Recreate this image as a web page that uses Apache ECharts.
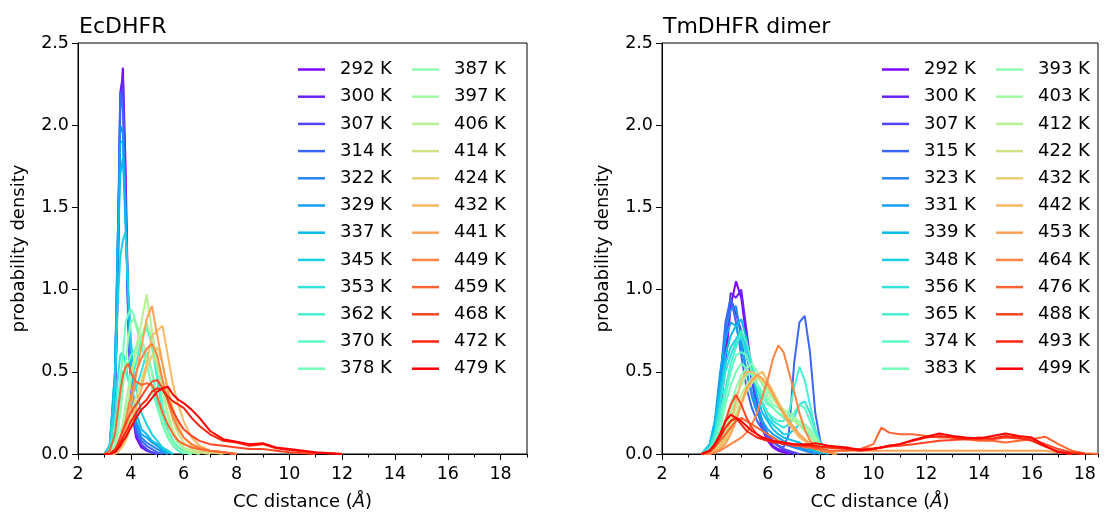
<!DOCTYPE html>
<html><head><meta charset="utf-8">
<script src="https://cdn.jsdelivr.net/npm/echarts@6/dist/echarts.min.js"></script>
<style>html,body{margin:0;padding:0;background:#fff}#c{width:1104px;height:514px}</style>
</head><body><div id="c"></div>
<script>
// ---------- data ----------
const tempsEc = ['292 K','300 K','307 K','314 K','322 K','329 K','337 K','345 K','353 K','362 K','370 K','378 K',
                 '387 K','397 K','406 K','414 K','424 K','432 K','441 K','449 K','459 K','468 K','472 K','479 K'];
const tempsTm = ['292 K','300 K','307 K','315 K','323 K','331 K','339 K','348 K','356 K','365 K','374 K','383 K',
                 '393 K','403 K','412 K','422 K','432 K','442 K','453 K','464 K','476 K','488 K','493 K','499 K'];

const xMajorTicks = [2,4,6,8,10,12,14,16,18];
const yTicks = [0,0.5,1.0,1.5,2.0,2.5];

// CC distance grid (Å) for EcDHFR
const xEc = [3.0,3.2,3.4,3.5,3.6,3.7,3.8,3.9,4.0,4.1,4.2,4.4,4.6,4.8,5.0,5.2,5.4,5.6,5.8,6.0,6.3,6.6,7.0,7.5,8.0,8.5,9.0,9.5,10,11,12];
const ec292 = [0,0.02,0.3,0.95,2.1,2.35,1.75,0.9,0.42,0.2,0.1,0.04,0.02,0.01,0];
const ec300 = [0,0.03,0.35,1.0,2.2,2.3,1.6,0.85,0.4,0.22,0.12,0.05,0.02,0.01,0];
const ec307 = [0,0.03,0.4,1.1,2.15,2.22,1.55,0.8,0.42,0.2,0.13,0.06,0.03,0.01,0];
const ec314 = [0,0.04,0.45,1.2,2.2,2.1,1.5,0.85,0.45,0.25,0.15,0.08,0.05,0.03,0.01,0];
const ec322 = [0,0.04,0.45,1.25,2.0,1.95,1.45,0.9,0.5,0.3,0.18,0.1,0.07,0.05,0.03,0.01,0];
const ec329 = [0,0.05,0.5,1.3,1.9,1.9,1.5,0.95,0.55,0.3,0.2,0.12,0.1,0.07,0.05,0.02,0];
const ec337 = [0,0.05,0.5,1.2,1.7,1.8,1.4,1.0,0.6,0.35,0.25,0.15,0.12,0.08,0.06,0.03,0.01,0];
const ec345 = [0,0.04,0.4,0.9,1.2,1.3,1.35,1.0,0.7,0.5,0.4,0.25,0.18,0.12,0.08,0.04,0.02,0];
const ec353 = [0,0.03,0.25,0.45,0.6,0.62,0.55,0.45,0.4,0.38,0.4,0.5,0.62,0.5,0.32,0.18,0.1,0.05,0.02,0];
const ec362 = [0,0.02,0.15,0.3,0.45,0.5,0.5,0.45,0.45,0.5,0.55,0.7,0.8,0.65,0.45,0.25,0.12,0.06,0.03,0.01,0];
const ec370 = [0,0.01,0.1,0.2,0.35,0.45,0.5,0.55,0.6,0.62,0.65,0.72,0.76,0.68,0.5,0.3,0.15,0.08,0.04,0.02,0];
const ec378 = [0,0.01,0.1,0.25,0.45,0.6,0.8,0.85,0.88,0.85,0.78,0.65,0.55,0.4,0.28,0.18,0.1,0.05,0.03,0.01,0];
const ec387 = [0,0,0.05,0.12,0.25,0.4,0.55,0.7,0.8,0.82,0.8,0.7,0.6,0.5,0.35,0.2,0.12,0.06,0.03,0.01,0];
const ec397 = [0,0,0.03,0.07,0.12,0.2,0.3,0.4,0.5,0.55,0.62,0.72,0.8,0.7,0.55,0.38,0.22,0.12,0.06,0.03,0.01,0];
const ec406 = [0,0,0.02,0.05,0.1,0.15,0.22,0.32,0.45,0.55,0.65,0.8,0.97,0.75,0.55,0.4,0.25,0.14,0.08,0.04,0.02,0];
const ec414 = [0,0,0.01,0.03,0.05,0.08,0.12,0.18,0.25,0.3,0.35,0.45,0.55,0.6,0.55,0.45,0.32,0.2,0.12,0.07,0.03,0.01,0];
const ec424 = [0,0,0.01,0.02,0.04,0.06,0.1,0.14,0.2,0.25,0.3,0.4,0.52,0.6,0.65,0.55,0.4,0.28,0.18,0.1,0.05,0.02,0.01,0];
const ec432 = [0,0,0,0.01,0.03,0.05,0.08,0.12,0.18,0.22,0.28,0.4,0.55,0.72,0.75,0.78,0.6,0.42,0.3,0.2,0.1,0.05,0.02,0.01,0];
const ec441 = [0,0,0.01,0.03,0.06,0.1,0.15,0.22,0.3,0.38,0.48,0.65,0.82,0.9,0.72,0.55,0.38,0.25,0.15,0.1,0.06,0.03,0.02,0.01,0];
const ec449 = [0,0,0.02,0.05,0.1,0.15,0.2,0.28,0.35,0.42,0.5,0.58,0.64,0.67,0.6,0.45,0.32,0.22,0.15,0.1,0.06,0.04,0.02,0.01,0];
const ec459 = [0,0.02,0.12,0.25,0.38,0.48,0.53,0.55,0.5,0.46,0.44,0.42,0.43,0.42,0.35,0.25,0.18,0.12,0.08,0.06,0.04,0.03,0.02,0.01,0];
const ec468 = [0,0,0.03,0.06,0.1,0.14,0.18,0.22,0.25,0.28,0.3,0.35,0.4,0.44,0.45,0.4,0.33,0.26,0.2,0.15,0.11,0.08,0.06,0.05,0.04,0.03,0.03,0.02,0.01,0];
const ec472 = [0,0,0.02,0.04,0.07,0.1,0.13,0.16,0.2,0.22,0.25,0.3,0.33,0.38,0.4,0.39,0.35,0.32,0.3,0.28,0.22,0.17,0.12,0.08,0.07,0.05,0.06,0.035,0.025,0.008,0];
const ec479 = [0,0,0.01,0.03,0.05,0.08,0.1,0.13,0.16,0.19,0.22,0.27,0.3,0.34,0.38,0.4,0.41,0.36,0.33,0.31,0.27,0.22,0.14,0.09,0.075,0.06,0.065,0.04,0.03,0.01,0];

// CC distance grid (Å) for TmDHFR dimer
const xTm = [3.5,3.8,4.0,4.2,4.4,4.6,4.8,5.0,5.2,5.4,5.6,5.8,6.0,6.2,6.4,6.6,6.8,7.0,7.2,7.4,7.6,7.8,8.0,8.3,8.6,9.0,9.5,10.0,10.3,10.6,11.0,11.5,12.0,12.5,13.0,13.5,14.0,14.5,15.0,15.5,16.0,16.5,17.0,17.5,18.0,18.5];
const tm292 = [0,0.02,0.08,0.25,0.55,0.9,1.05,0.95,0.7,0.45,0.28,0.15,0.08,0.04,0.02,0.01,0];
const tm300 = [0,0.03,0.1,0.3,0.65,0.98,0.95,1.0,0.75,0.5,0.3,0.18,0.1,0.05,0.03,0.02,0.01,0];
const tm307 = [0,0.03,0.12,0.35,0.7,0.95,0.85,0.75,0.6,0.45,0.3,0.2,0.12,0.08,0.05,0.03,0.02,0.01,0];
const tm315 = [0,0.04,0.15,0.45,0.8,0.95,0.8,0.6,0.4,0.28,0.2,0.15,0.1,0.07,0.05,0.04,0.12,0.55,0.8,0.84,0.62,0.25,0.07,0.02,0];
const tm323 = [0,0.05,0.18,0.45,0.75,0.88,0.9,0.7,0.5,0.35,0.25,0.18,0.12,0.1,0.08,0.06,0.05,0.04,0.03,0.02,0.01,0];
const tm331 = [0,0.05,0.2,0.5,0.7,0.8,0.78,0.65,0.5,0.38,0.28,0.2,0.15,0.12,0.1,0.08,0.06,0.05,0.04,0.03,0.02,0.01,0];
const tm339 = [0,0.06,0.2,0.4,0.6,0.72,0.78,0.82,0.7,0.5,0.35,0.25,0.2,0.15,0.12,0.1,0.09,0.08,0.07,0.05,0.03,0.02,0.01,0];
const tm348 = [0,0.05,0.15,0.35,0.55,0.65,0.7,0.75,0.65,0.55,0.4,0.3,0.22,0.18,0.15,0.12,0.12,0.15,0.18,0.15,0.1,0.05,0.02,0.01,0];
const tm356 = [0,0.04,0.12,0.3,0.5,0.6,0.68,0.72,0.6,0.5,0.4,0.3,0.25,0.2,0.18,0.16,0.18,0.22,0.3,0.32,0.25,0.15,0.05,0.02,0];
const tm365 = [0,0.03,0.1,0.25,0.4,0.55,0.65,0.75,0.68,0.55,0.42,0.32,0.25,0.22,0.2,0.2,0.25,0.4,0.53,0.45,0.3,0.15,0.06,0.02,0];
const tm374 = [0,0.02,0.08,0.2,0.35,0.5,0.6,0.62,0.6,0.5,0.42,0.35,0.3,0.28,0.25,0.22,0.22,0.25,0.3,0.28,0.2,0.12,0.05,0.02,0];
const tm383 = [0,0.02,0.06,0.15,0.3,0.42,0.5,0.55,0.52,0.48,0.42,0.38,0.32,0.28,0.25,0.23,0.22,0.2,0.2,0.18,0.15,0.1,0.05,0.02,0];
const tm393 = [0,0.01,0.04,0.1,0.2,0.3,0.4,0.48,0.52,0.55,0.5,0.42,0.35,0.3,0.28,0.25,0.22,0.2,0.18,0.15,0.12,0.08,0.04,0.01,0];
const tm403 = [0,0.01,0.03,0.08,0.15,0.25,0.35,0.42,0.48,0.5,0.47,0.43,0.38,0.33,0.3,0.27,0.25,0.22,0.2,0.17,0.14,0.1,0.05,0.02,0];
const tm412 = [0,0.01,0.03,0.06,0.12,0.2,0.28,0.36,0.42,0.46,0.48,0.45,0.4,0.35,0.3,0.26,0.22,0.2,0.17,0.14,0.1,0.06,0.03,0.01,0];
const tm422 = [0,0,0.02,0.05,0.1,0.16,0.24,0.32,0.4,0.44,0.46,0.44,0.4,0.36,0.3,0.25,0.2,0.16,0.12,0.09,0.06,0.04,0.02,0.01,0];
const tm432 = [0,0,0.02,0.04,0.08,0.14,0.22,0.3,0.38,0.43,0.47,0.45,0.42,0.38,0.32,0.26,0.2,0.15,0.11,0.08,0.05,0.03,0.02,0.01,0];
const tm442 = [0,0,0.02,0.05,0.1,0.2,0.32,0.45,0.5,0.5,0.48,0.5,0.44,0.38,0.3,0.24,0.18,0.14,0.1,0.08,0.06,0.04,0.02,0.01,0];
const tm453 = [0,0,0.01,0.03,0.06,0.12,0.2,0.3,0.4,0.45,0.48,0.46,0.42,0.36,0.3,0.25,0.2,0.16,0.12,0.09,0.06,0.04,0.03,0.02,0.02,0.02,0.02,0.02,0.02,0.02,0.02,0.02,0.02,0.02,0.02,0.02,0.02,0.02,0.02,0.02,0.02,0.02,0.01,0];
const tm464 = [0,0,0.01,0.02,0.04,0.06,0.08,0.1,0.13,0.18,0.25,0.35,0.45,0.58,0.66,0.62,0.5,0.38,0.25,0.15,0.08,0.04,0.02,0.01,0];
const tm476 = [0,0.01,0.04,0.08,0.12,0.16,0.2,0.22,0.2,0.18,0.16,0.14,0.12,0.1,0.08,0.07,0.06,0.05,0.05,0.04,0.04,0.03,0.03,0.02,0.02,0.02,0.03,0.06,0.16,0.13,0.12,0.12,0.11,0.1,0.1,0.09,0.08,0.08,0.07,0.08,0.09,0.105,0.06,0.02,0.005,0];
const tm488 = [0,0.02,0.06,0.12,0.2,0.3,0.36,0.3,0.22,0.16,0.12,0.1,0.09,0.08,0.07,0.06,0.06,0.05,0.05,0.05,0.05,0.04,0.04,0.04,0.035,0.03,0.03,0.035,0.04,0.045,0.05,0.06,0.07,0.08,0.085,0.09,0.09,0.09,0.1,0.095,0.09,0.06,0.03,0.01,0];
const tm493 = [0,0.02,0.05,0.1,0.16,0.2,0.22,0.18,0.14,0.12,0.1,0.09,0.08,0.07,0.07,0.06,0.06,0.06,0.055,0.05,0.05,0.05,0.045,0.04,0.04,0.03,0.02,0.03,0.04,0.05,0.06,0.08,0.1,0.11,0.1,0.09,0.1,0.095,0.11,0.1,0.08,0.045,0.015,0.005,0];
const tm499 = [0,0.02,0.06,0.12,0.2,0.24,0.22,0.2,0.17,0.14,0.12,0.1,0.09,0.08,0.075,0.07,0.065,0.06,0.06,0.06,0.06,0.065,0.06,0.05,0.045,0.04,0.025,0.03,0.04,0.05,0.06,0.085,0.105,0.125,0.11,0.1,0.095,0.11,0.125,0.11,0.1,0.05,0.01,0];

const ecCurves = [ec292,ec300,ec307,ec314,ec322,ec329,ec337,ec345,ec353,ec362,ec370,ec378,
                  ec387,ec397,ec406,ec414,ec424,ec432,ec441,ec449,ec459,ec468,ec472,ec479];
const tmCurves = [tm292,tm300,tm307,tm315,tm323,tm331,tm339,tm348,tm356,tm365,tm374,tm383,
                  tm393,tm403,tm412,tm422,tm432,tm442,tm453,tm464,tm476,tm488,tm493,tm499];

// ---------- chart ----------
const FONT = 'DejaVu Sans';
function rainbow(t){
  const r = Math.min(1, Math.abs(2*t - 0.5)), g = Math.sin(Math.PI*t), b = Math.cos(Math.PI*t/2);
  return 'rgb(' + Math.round(r*255) + ',' + Math.round(g*255) + ',' + Math.round(b*255) + ')';
}
const pairs = (xs, ys) => ys.map((y, i) => [xs[i], y]);

const series = [];
ecCurves.forEach((ys, i) => {
  const c = rainbow(i / (ecCurves.length - 1));
  series.push({type:'line', name:'L' + tempsEc[i], xAxisIndex:0, yAxisIndex:0, data:pairs(xEc, ys),
    symbol:'none', showSymbol:false, lineStyle:{width:2, color:c}, itemStyle:{color:c}, animation:false});
});
tmCurves.forEach((ys, i) => {
  const c = rainbow(i / (tmCurves.length - 1));
  series.push({type:'line', name:'R' + tempsTm[i], xAxisIndex:2, yAxisIndex:1, data:pairs(xTm, ys),
    symbol:'none', showSymbol:false, lineStyle:{width:2, color:c}, itemStyle:{color:c}, animation:false});
});

function legend(names, prefix, left){
  return {orient:'vertical', left:left, top:60.5, padding:0, itemWidth:27, itemHeight:2.5, itemGap:9.2,
    icon:'rect', selectedMode:false, data:names.map(n => prefix + n), formatter:n => n.slice(1),
    textStyle:{fontSize:18, color:'#000', fontFamily:FONT, lineHeight:18, padding:[0,0,0,10]}};
}

function mainX(grid, max){
  return {type:'value', gridIndex:grid, min:2, max:max, interval:2, position:'bottom', offset:0,
    name:'CC distance ({i|Å})', nameLocation:'middle', nameGap:39,
    nameTextStyle:{fontSize:18, color:'#000', fontFamily:FONT, rich:{i:{fontStyle:'italic', fontSize:18, fontFamily:FONT, color:'#000'}}},
    axisLine:{show:true, onZero:false, lineStyle:{color:'#000', width:1}},
    axisTick:{show:true, length:6, customValues:xMajorTicks, lineStyle:{color:'#000', width:1}},
    axisLabel:{show:true, customValues:xMajorTicks, fontSize:17.5, color:'#000', fontFamily:FONT, margin:11},
    splitLine:{show:false}};
}
function minorX(grid, max){
  return {type:'value', gridIndex:grid, min:2, max:max, interval:1, position:'bottom', offset:0,
    axisLine:{show:false}, axisTick:{show:true, length:3.5, lineStyle:{color:'#000', width:1}},
    axisLabel:{show:false}, splitLine:{show:false}};
}
function yAx(grid){
  return {type:'value', gridIndex:grid, min:0, max:2.5, interval:0.5,
    name:'probability density', nameLocation:'middle', nameGap:50, nameRotate:90,
    nameTextStyle:{fontSize:18, color:'#000', fontFamily:FONT},
    axisLine:{show:true, lineStyle:{color:'#000', width:1}},
    axisTick:{show:true, length:6, customValues:yTicks, lineStyle:{color:'#000', width:1}},
    axisLabel:{fontSize:17.5, color:'#000', fontFamily:FONT, margin:9, customValues:yTicks, formatter:v => Number(v).toFixed(1)},
    splitLine:{show:false}};
}

const chart = echarts.init(document.getElementById('c'), null, {renderer:'canvas'});
chart.setOption({
  backgroundColor:'#fff',
  animation:false,
  textStyle:{fontFamily:FONT},
  title:[
    {text:'EcDHFR', left:79, top:16, padding:0, textStyle:{fontSize:22, fontWeight:'normal', color:'#000', fontFamily:FONT}},
    {text:'TmDHFR dimer', left:663, top:16, padding:0, textStyle:{fontSize:22, fontWeight:'normal', color:'#000', fontFamily:FONT}}
  ],
  legend:[
    legend(tempsEc.slice(0,12), 'L', 298), legend(tempsEc.slice(12), 'L', 412),
    legend(tempsTm.slice(0,12), 'R', 882), legend(tempsTm.slice(12), 'R', 996)
  ],
  grid:[
    {left:78, top:43, width:449, height:411, show:true, borderColor:'#000', borderWidth:1, backgroundColor:'transparent', containLabel:false, outerBoundsMode:'none'},
    {left:662, top:43, width:436, height:411, show:true, borderColor:'#000', borderWidth:1, backgroundColor:'transparent', containLabel:false, outerBoundsMode:'none'}
  ],
  xAxis:[mainX(0, 19), minorX(0, 19), mainX(1, 18.5), minorX(1, 18.5)],
  yAxis:[yAx(0), yAx(1)],
  series:series
});
</script>
</body></html>
